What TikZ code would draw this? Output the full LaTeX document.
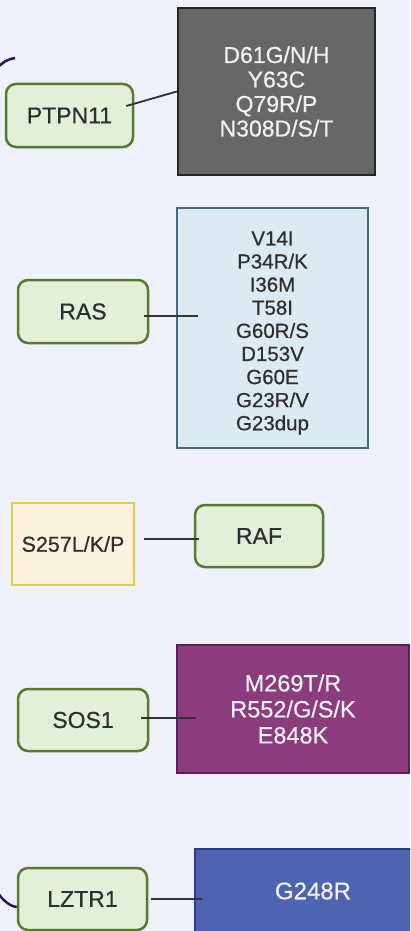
\documentclass[tikz,border=0pt]{standalone}
\usepackage{fontspec}
\setmainfont{Liberation Sans}[FakeBold=0.6]
\usetikzlibrary{calc}
\definecolor{bg}{HTML}{EEF1FA}
\definecolor{genefill}{HTML}{E2F0D9}
\definecolor{genedraw}{HTML}{587A30}
\definecolor{labeltext}{HTML}{2E2E2E}
\definecolor{darkfill}{HTML}{676767}
\definecolor{darkdraw}{HTML}{262626}
\definecolor{rasfill}{HTML}{DCEAF3}
\definecolor{rasdraw}{HTML}{46697F}
\definecolor{yelfill}{HTML}{FBF3E0}
\definecolor{yeldraw}{HTML}{E3CC4A}
\definecolor{purfill}{HTML}{8C3B7E}
\definecolor{purdraw}{HTML}{5E1F55}
\definecolor{bluefill}{HTML}{4E64B1}
\definecolor{bluedraw}{HTML}{2A3A8E}
\definecolor{navy}{HTML}{1E1B5A}
\definecolor{linkc}{HTML}{333333}
\definecolor{lighttext}{HTML}{F2F2F2}
\begin{document}
\begin{tikzpicture}[x=1pt,y=-1pt,
  gene/.style={draw=genedraw, fill=genefill, line width=2.5pt, rounded corners=10pt,
    font=\fontsize{23}{26}\selectfont, text=labeltext, inner sep=0pt},
  mut/.style={line width=2.3pt, align=center, inner sep=0pt},
  link/.style={draw=linkc, line width=1.8pt},
  curl/.style={draw=navy, line width=2.5pt}]
\clip (0,0) rectangle (410,931);
\fill[bg] (0,0) rectangle (410,931);

% PTPN11
\node[gene, minimum width=127pt, minimum height=63pt] (ptpn) at (69.5,115.5) {PTPN11};
\node[mut, draw=darkdraw, fill=darkfill, text=lighttext, minimum width=197pt, minimum height=167pt, font=\fontsize{23}{24.5}\selectfont] (ptpnm) at (276.5,91.5) {D61G/N/H\\Y63C\\Q79R/P\\N308D/S/T};
\draw[link] ($(ptpn.east)+(-8,-9.5)$) -- (ptpnm.west);

% RAS
\node[gene, minimum width=130pt, minimum height=63pt] (ras) at (83,311.5) {RAS};
\node[mut, draw=rasdraw, fill=rasfill, text=labeltext, minimum width=191pt, minimum height=240pt, font=\fontsize{20.5}{23.1}\selectfont] (rasm) at (272.5,328) {\rule{0pt}{24pt}V14I\\P34R/K\\I36M\\T58I\\G60R/S\\D153V\\G60E\\G23R/V\\G23dup};
\draw[link] ($(ras.east)+(-5,4.5)$) -- ($(rasm.west)+(22,-12)$);

% RAF
\node[mut, draw=yeldraw, fill=yelfill, text=labeltext, minimum width=122pt, minimum height=82pt, font=\fontsize{21.5}{24}\selectfont] (s257) at (73,544) {S257L/K/P};
\node[gene, minimum width=128pt, minimum height=62pt] (raf) at (259,536) {RAF};
\draw[link] ($(s257.east)+(9,-5)$) -- ($(raf.west)+(5,3)$);

% SOS1
\node[gene, minimum width=130pt, minimum height=62pt] (sos) at (83,720) {SOS1};
\node[mut, draw=purdraw, fill=purfill, text=lighttext, minimum width=232pt, minimum height=128pt, font=\fontsize{23.5}{26}\selectfont] (sosm) at (293,709) {M269T/R\\R552/G/S/K\\E848K};
\draw[link] ($(sos.east)+(-8,-2)$) -- ($(sosm.west)+(20,9)$);

% LZTR1
\node[gene, minimum width=129pt, minimum height=62pt] (lztr) at (82.5,899) {LZTR1};
\node[mut, draw=bluedraw, fill=bluefill, text=lighttext, minimum width=236pt, minimum height=84pt, font=\fontsize{24}{26}\selectfont] (lztrm) at (313,891) {G248R};
\draw[link] ($(lztr.east)+(3,0)$) -- ($(lztrm.west)+(8,8)$);

% partial curves at left edge
\coordinate (c1) at (-3,68);
\draw[curl] (c1) .. controls (3,62) and (8,59) .. (15,58);
\coordinate (c2) at (-3,892);
\draw[curl] (c2) .. controls (3,900) and (9,906) .. (lztr.west |- 0,907);
\end{tikzpicture}
\end{document}
